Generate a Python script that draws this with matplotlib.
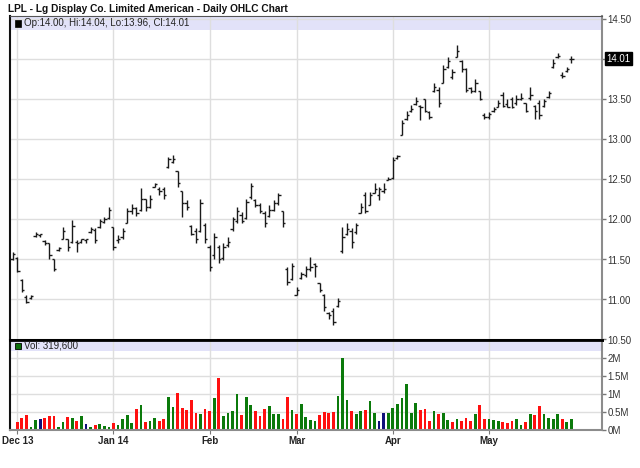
import numpy as np
import pandas as pd
import matplotlib
matplotlib.use('Agg')
import matplotlib.pyplot as plt
from matplotlib.patches import Rectangle
import matplotlib.transforms as mtransforms

plt.rcParams['font.family'] = ['Liberation Sans', 'DejaVu Sans']

# trading days, 29 Nov 2013 .. 28 May 2014
holidays = ['2013-12-25', '2014-01-01', '2014-01-20', '2014-02-17', '2014-04-18', '2014-05-26']
dates = pd.bdate_range('2013-11-29', '2014-05-28')
dates = dates[~dates.isin(pd.to_datetime(holidays))]

opens = [11.50, 11.52, 11.24, 11.03, 11.02, 11.79, 11.80, 11.73, 11.70, 11.50,
         11.62, 11.76, 11.75, 11.72, 11.72, 11.72, 11.74, 11.84, 11.87, 11.90,
         11.97, 12.02, 11.90, 11.74, 11.78, 11.96, 12.10, 12.14, 12.12, 12.25,
         12.16, 12.41, 12.38, 12.38, 12.65, 12.72, 12.60, 12.36, 12.20, 11.92,
         11.85, 11.86, 11.93, 11.65, 11.55, 11.66, 11.52, 11.68, 11.88, 11.98,
         12.05, 12.02, 12.28, 12.24, 12.18, 12.08, 12.04, 12.12, 12.20, 12.10,
         11.38, 11.26, 11.06, 11.27, 11.30, 11.38, 11.44, 11.20, 11.06, 10.83,
         10.85, 10.92, 11.60, 11.82, 11.86, 11.84, 12.08, 12.30, 12.18, 12.33,
         12.30, 12.35, 12.49, 12.52, 12.77, 13.06, 13.25, 13.35, 13.44, 13.42,
         13.50, 13.34, 13.60, 13.62, 13.71, 13.90, 13.78, 14.03, 13.98, 13.88,
         13.64, 13.60, 13.60, 13.31, 13.28, 13.35, 13.41, 13.55, 13.44, 13.50,
         13.46, 13.50, 13.45, 13.52, 13.42, 13.45, 13.42, 13.53, 13.90, 14.03,
         13.80, 13.85, 14.00]
highs = [11.59, 11.53, 11.25, 11.05, 11.06, 11.84, 11.82, 11.74, 11.71, 11.51,
         11.66, 11.90, 11.76, 11.99, 11.74, 11.76, 11.76, 11.90, 11.89, 12.01,
         12.03, 12.15, 11.91, 11.80, 11.89, 12.14, 12.19, 12.16, 12.39, 12.26,
         12.30, 12.46, 12.40, 12.40, 12.78, 12.80, 12.61, 12.36, 12.24, 11.93,
         11.89, 12.26, 11.95, 11.68, 11.83, 11.68, 11.70, 11.78, 12.03, 12.15,
         12.09, 12.26, 12.46, 12.26, 12.21, 12.11, 12.18, 12.24, 12.33, 12.11,
         11.40, 11.46, 11.15, 11.34, 11.42, 11.53, 11.45, 11.21, 11.07, 10.84,
         10.89, 11.02, 11.90, 11.96, 11.89, 11.96, 12.20, 12.34, 12.34, 12.46,
         12.40, 12.46, 12.53, 12.78, 12.80, 13.24, 13.36, 13.43, 13.53, 13.43,
         13.51, 13.36, 13.70, 13.65, 13.93, 14.03, 13.88, 14.18, 13.99, 13.89,
         13.65, 13.76, 13.61, 13.33, 13.34, 13.40, 13.49, 13.59, 13.51, 13.53,
         13.55, 13.58, 13.46, 13.65, 13.43, 13.49, 13.51, 13.61, 14.01, 14.08,
         13.84, 13.90, 14.04]
lows = [11.49, 11.34, 11.09, 10.95, 11.01, 11.78, 11.78, 11.68, 11.50, 11.35,
        11.61, 11.75, 11.61, 11.71, 11.59, 11.70, 11.70, 11.83, 11.70, 11.89,
        11.95, 12.00, 11.62, 11.71, 11.76, 11.95, 12.07, 12.04, 12.10, 12.11,
        12.14, 12.40, 12.30, 12.26, 12.64, 12.70, 12.40, 12.03, 12.12, 11.80,
        11.71, 11.84, 11.71, 11.36, 11.51, 11.45, 11.49, 11.65, 11.86, 11.96,
        11.95, 12.01, 12.26, 12.15, 12.08, 11.90, 12.03, 12.11, 12.18, 11.90,
        11.18, 11.24, 11.05, 11.26, 11.28, 11.36, 11.28, 11.09, 10.86, 10.76,
        10.68, 10.90, 11.58, 11.80, 11.64, 11.82, 12.08, 12.08, 12.18, 12.33,
        12.24, 12.33, 12.49, 12.51, 12.76, 13.05, 13.24, 13.34, 13.43, 13.24,
        13.34, 13.26, 13.59, 13.40, 13.70, 13.89, 13.76, 14.03, 13.84, 13.59,
        13.58, 13.59, 13.49, 13.26, 13.26, 13.34, 13.40, 13.40, 13.40, 13.39,
        13.43, 13.49, 13.34, 13.49, 13.26, 13.26, 13.40, 13.52, 13.89, 14.02,
        13.77, 13.84, 13.96]
closes = [11.57, 11.36, 11.12, 10.97, 11.04, 11.82, 11.82, 11.70, 11.55, 11.38,
          11.64, 11.86, 11.66, 11.92, 11.70, 11.75, 11.75, 11.88, 11.74, 11.98,
          12.01, 12.12, 11.66, 11.76, 11.85, 12.10, 12.14, 12.08, 12.25, 12.16,
          12.25, 12.44, 12.36, 12.30, 12.75, 12.76, 12.45, 12.20, 12.15, 11.82,
          11.75, 12.20, 11.75, 11.40, 11.78, 11.50, 11.65, 11.72, 12.00, 12.10,
          11.98, 12.22, 12.42, 12.18, 12.10, 11.95, 12.12, 12.20, 12.30, 11.95,
          11.22, 11.42, 11.12, 11.32, 11.38, 11.40, 11.42, 11.12, 10.90, 10.80,
          10.72, 10.98, 11.78, 11.88, 11.72, 11.93, 12.15, 12.10, 12.30, 12.38,
          12.38, 12.38, 12.51, 12.74, 12.79, 13.20, 13.30, 13.38, 13.48, 13.40,
          13.36, 13.28, 13.66, 13.45, 13.88, 13.98, 13.84, 14.10, 13.88, 13.62,
          13.60, 13.70, 13.50, 13.28, 13.32, 13.38, 13.46, 13.42, 13.41, 13.40,
          13.50, 13.52, 13.36, 13.55, 13.35, 13.30, 13.48, 13.58, 13.96, 14.04,
          13.79, 13.88, 14.01]
# volume in millions of shares
volumes = [0.00, 0.23, 0.33, 0.42, 0.07, 0.28, 0.30, 0.34, 0.39, 0.39,
           0.09, 0.21, 0.35, 0.34, 0.25, 0.39, 0.16, 0.08, 0.14, 0.16,
           0.11, 0.07, 0.19, 0.14, 0.32, 0.42, 0.20, 0.58, 0.70, 0.22,
           0.25, 0.34, 0.25, 0.30, 0.93, 0.65, 1.03, 0.62, 0.55, 0.83,
           0.48, 0.45, 0.60, 0.53, 0.90, 1.44, 0.39, 0.47, 0.53, 1.00,
           0.42, 0.91, 0.70, 0.52, 0.40, 0.58, 0.68, 0.45, 0.45, 0.30,
           0.93, 0.55, 0.45, 0.73, 0.37, 0.28, 0.26, 0.42, 0.49, 0.47,
           0.49, 0.96, 2.00, 0.83, 0.53, 0.45, 0.53, 0.56, 0.81, 0.47,
           0.25, 0.47, 0.47, 0.62, 0.73, 0.90, 1.28, 0.47, 0.75, 0.55,
           0.60, 0.25, 0.52, 0.45, 0.47, 0.27, 0.22, 0.32, 0.25, 0.33,
           0.25, 0.45, 0.70, 0.32, 0.32, 0.29, 0.24, 0.22, 0.20, 0.24,
           0.30, 0.14, 0.22, 0.45, 0.42, 0.67, 0.45, 0.33, 0.32, 0.45,
           0.32, 0.22, 0.3196]

price_ticks = [10.5, 11.0, 11.5, 12.0, 12.5, 13.0, 13.5, 14.0, 14.5]
vol_ticks = [0, 0.5, 1, 1.5, 2]
vol_labels = ['0M', '0.5M', '1M', '1.5M', '2M']
month_labels = ['Dec 13', 'Jan 14', 'Feb', 'Mar', 'Apr', 'May']

x = np.arange(len(dates))
month_pos = [i for i in range(1, len(dates)) if dates[i].month != dates[i - 1].month]

chg = np.sign(np.diff(closes, prepend=closes[0]))
vol_colors = ['#0b7a0b' if c > 0 else ('#ff1010' if c < 0 else '#10107a') for c in chg]

W, H = 640.0, 468.0
def box(l, t, r, b):
    return [l / W, 1 - b / H, (r - l) / W, (b - t) / H]

TOP, SEP = 16.0, 339.5
fig = plt.figure(figsize=(6.4, 4.68), dpi=100)
ax = fig.add_axes(box(10, TOP, 602, SEP))
axv = fig.add_axes(box(10, SEP, 602, 430), sharex=ax)

grid_col = '#dedede'
for a in (ax, axv):
    a.set_axisbelow(True)
    a.grid(True, color=grid_col, lw=1)
    a.yaxis.tick_right()
    a.spines['left'].set_color('#111111')
    a.spines['left'].set_linewidth(1.5)
    a.spines['right'].set_color('#8c8c8c')
    a.spines['right'].set_linewidth(1.5)
    a.tick_params(axis='y', direction='out', length=3, width=1, color='#777777',
                  labelsize=7, labelcolor='#333333', pad=1)

# price panel, 80 px per dollar
ax.vlines(x, lows, highs, color='#1a1a1a', lw=1)
ax.hlines(opens, x - 0.5, x, color='#1a1a1a', lw=1)
ax.hlines(closes, x, x + 0.5, color='#1a1a1a', lw=1)
ax.set_xlim(-0.59, 128.67)
ax.set_ylim(10.5, 10.5 + (SEP - TOP) / 80.0)
ax.set_yticks(price_ticks)
# the last-price box sits over the 14.00 label
ax.set_yticklabels(['' if p == 14.0 else '%.2f' % p for p in price_ticks])
ax.set_xticks(month_pos)
ax.tick_params(axis='x', length=0, labelbottom=False)
ax.spines['top'].set_color('#555555')
ax.spines['bottom'].set_color('#000000')
ax.spines['bottom'].set_linewidth(2)

ph = SEP - TOP
band = 14.0 / ph
ax.add_patch(Rectangle((0, 1 - band), 1, band, transform=ax.transAxes,
                       facecolor='#e2e2f9', edgecolor='none', zorder=0.3))
ax.add_patch(Rectangle((4.5 / 592.0, 1 - 10.5 / ph), 6 / 592.0, 6 / ph, transform=ax.transAxes,
                       facecolor='#000000', edgecolor='#000000', lw=0.5, zorder=3))
ax.text(14 / 592.0, 1 - 7.5 / ph, 'Op:%.2f, Hi:%.2f, Lo:%.2f, Cl:%.2f'
        % (opens[-1], highs[-1], lows[-1], closes[-1]),
        transform=ax.transAxes, fontsize=7, color='#222222', va='center', ha='left', zorder=3)

# last price marker
trans = mtransforms.blended_transform_factory(ax.transAxes, ax.transData)
ax.text(1.007, closes[-1], '%.2f' % closes[-1], transform=trans, fontsize=7, color='white',
        va='center', ha='left',
        bbox=dict(boxstyle='square,pad=0.15', facecolor='black', edgecolor='black'))

# volume panel
vh = 430 - SEP
axv.bar(x, volumes, width=0.6, color=vol_colors, zorder=2)
axv.set_ylim(0, vh / 35.8)
axv.set_yticks(vol_ticks)
axv.set_yticklabels(vol_labels)
axv.set_xticks(month_pos)
axv.set_xticklabels(month_labels, fontweight='bold')
axv.tick_params(axis='x', direction='out', length=3, color='#777777', labelsize=7,
                labelcolor='#222222', pad=1)
axv.spines['top'].set_color('#000000')
axv.spines['top'].set_linewidth(2)
axv.spines['bottom'].set_color('#8c8c8c')
axv.spines['bottom'].set_linewidth(1.5)

vband = 11 / vh
axv.add_patch(Rectangle((0, 1 - vband), 1, vband, transform=axv.transAxes,
                        facecolor='#e2e2f9', edgecolor='none', zorder=0.3))
axv.add_patch(Rectangle((4.5 / 592.0, 1 - 9 / vh), 6 / 592.0, 6 / vh, transform=axv.transAxes,
                        facecolor='#0b6e0b', edgecolor='#000000', lw=0.6, zorder=3))
axv.text(14 / 592.0, 1 - 6 / vh, 'Vol: {:,}'.format(int(round(volumes[-1] * 1e6))),
         transform=axv.transAxes, fontsize=7, color='#222222', va='center', ha='left', zorder=3)

fig.text(8 / W, 1 - 8.5 / H, 'LPL - Lg Display Co. Limited American - Daily OHLC Chart',
         fontsize=7.3, fontweight='bold', color='#111111', va='center', ha='left')

fig.savefig('out.png', dpi=100)
